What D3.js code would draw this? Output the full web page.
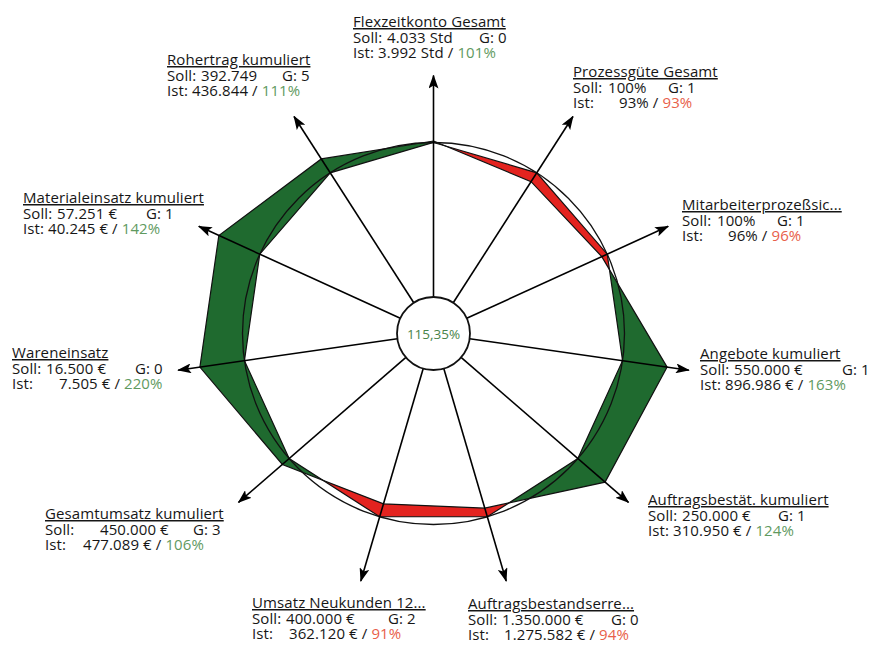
<!DOCTYPE html>
<html>
<head>
<meta charset="utf-8">
<script src="https://cdn.jsdelivr.net/npm/d3@7"></script>
<style>
  html, body { margin: 0; padding: 0; background: #ffffff; }
  svg { display: block; }
  text { font-family: "Open Sans", sans-serif; font-size: 15px; letter-spacing: 0.1px; fill: #161616; }
</style>
</head>
<body>
<svg id="chart" width="873" height="646"></svg>
<script>
// ---------- data (clockwise from top) ----------
const categories = [
  "Flexzeitkonto Gesamt", "Prozessgüte Gesamt", "Mitarbeiterprozeßsic...",
  "Angebote kumuliert", "Auftragsbestät. kumuliert", "Auftragsbestandserre...",
  "Umsatz Neukunden 12...", "Gesamtumsatz kumuliert", "Wareneinsatz",
  "Materialeinsatz kumuliert", "Rohertrag kumuliert"
];
const sollValues = ["4.033 Std", "100%", "100%", "550.000 €", "250.000 €", "1.350.000 €",
  "400.000 €", "450.000 €", "16.500 €", "57.251 €", "392.749"];
const istValues = ["3.992 Std", "93%", "96%", "896.986 €", "310.950 €", "1.275.582 €",
  "362.120 €", "477.089 €", "7.505 €", "40.245 €", "436.844"];
const gValues = [0, 1, 1, 1, 1, 0, 2, 3, 0, 1, 5];
const percentValues = [101, 93, 96, 163, 124, 94, 91, 106, 220, 142, 111];
const totalLabel = "115,35%";

// ---------- label layout (left x, title baseline y, value/G offsets) ----------
const labelLayout = [
  { x: 353, y: 27, s: 34, i: 25, g: 126 },
  { x: 573, y: 77, s: 35, i: 46, g: 95 },
  { x: 682, y: 210, s: 35, i: 46, g: 95 },
  { x: 700, y: 359, s: 34, i: 25, g: 142 },
  { x: 648, y: 505, s: 34, i: 25, g: 130 },
  { x: 468, y: 609, s: 34, i: 36, g: 143 },
  { x: 252, y: 608, s: 34, i: 37, g: 136 },
  { x: 45, y: 519, s: 55, i: 38, g: 148 },
  { x: 12, y: 358, s: 34, i: 47, g: 123 },
  { x: 23, y: 203, s: 34, i: 25, g: 123 },
  { x: 167, y: 65, s: 34, i: 25, g: 115 }
];

// ---------- geometry ----------
const cx = 433.5, cy = 333.5;
const innerR = 36.5, arrowR = 258;
const n = categories.length;
const green = "#1f6a2f", red = "#e3231f";
const pctGreen = "#5f9a5f", pctRed = "#e8604a";

const angle = d3.scaleLinear().domain([0, n]).range([0, 2 * Math.PI]);
const rScale = d3.scaleLinear().domain([0, 130]).range([41, 236]).clamp(true);
const pt = (i, r) => [cx + r * Math.sin(angle(i)), cy - r * Math.cos(angle(i))];

const svg = d3.select("#chart");
const defs = svg.append("defs");
defs.append("marker")
  .attr("id", "arrow").attr("viewBox", "0 0 14 10")
  .attr("refX", 13).attr("refY", 5)
  .attr("markerUnits", "userSpaceOnUse")
  .attr("markerWidth", 14).attr("markerHeight", 10)
  .attr("orient", "auto")
  .append("path").attr("d", "M0,0 L14,5 L0,10 L3,5 Z").attr("fill", "#000");

const line = d3.line().curve(d3.curveLinearClosed);
const sollPts = d3.range(n).map(i => pt(i, rScale(100)));
const istPts = percentValues.map((v, i) => pt(i, rScale(v)));

defs.append("clipPath").attr("id", "sollClip")
  .append("path").attr("d", line(sollPts));

// red where actual < target, green where actual > target
svg.append("path").attr("d", line(sollPts)).attr("fill", red);
svg.append("path").attr("d", line(istPts)).attr("fill", green);
svg.append("path").attr("d", line(istPts)).attr("fill", "#fff").attr("clip-path", "url(#sollClip)");

svg.append("path").attr("d", line(sollPts)).attr("fill", "none").attr("stroke", "#111").attr("stroke-width", 1.2);
svg.append("path").attr("d", line(istPts)).attr("fill", "none").attr("stroke", "#111").attr("stroke-width", 1.2);
svg.append("circle").attr("cx", cx).attr("cy", cy).attr("r", rScale(100))
  .attr("fill", "none").attr("stroke", "#111").attr("stroke-width", 1.3);

// spokes with arrows
svg.append("g").selectAll("line").data(d3.range(n)).join("line")
  .attr("x1", i => pt(i, innerR)[0]).attr("y1", i => pt(i, innerR)[1])
  .attr("x2", i => pt(i, arrowR)[0]).attr("y2", i => pt(i, arrowR)[1])
  .attr("stroke", "#000").attr("stroke-width", 1.6)
  .attr("marker-end", "url(#arrow)");

// center
svg.append("circle").attr("cx", cx).attr("cy", cy).attr("r", innerR)
  .attr("fill", "#fff").attr("stroke", "#111").attr("stroke-width", 1.8);
svg.append("text").attr("x", cx).attr("y", cy + 5).attr("text-anchor", "middle")
  .style("font-size", "13.5px").style("letter-spacing", "0px").style("fill", "#4a844a").text(totalLabel);

// labels: one text element per label block, lines as tspans
const lab = svg.append("g").selectAll("text").data(d3.range(n)).join("text");
lab.append("tspan").attr("x", i => labelLayout[i].x).attr("y", i => labelLayout[i].y)
  .style("text-decoration", "underline").text(i => categories[i]);
lab.append("tspan").attr("x", i => labelLayout[i].x).attr("y", i => labelLayout[i].y + 15.5).text("Soll:");
lab.append("tspan").attr("x", i => labelLayout[i].x + labelLayout[i].s).attr("y", i => labelLayout[i].y + 15.5)
  .text(i => sollValues[i]);
lab.append("tspan").attr("x", i => labelLayout[i].x + labelLayout[i].g).attr("y", i => labelLayout[i].y + 15.5)
  .text(i => "G: " + gValues[i]);
lab.append("tspan").attr("x", i => labelLayout[i].x).attr("y", i => labelLayout[i].y + 31).text("Ist:");
lab.append("tspan").attr("x", i => labelLayout[i].x + labelLayout[i].i).attr("y", i => labelLayout[i].y + 31)
  .text(i => istValues[i] + " / ");
lab.append("tspan").style("fill", i => percentValues[i] >= 100 ? pctGreen : pctRed)
  .text(i => percentValues[i] + "%");
</script>
</body>
</html>
